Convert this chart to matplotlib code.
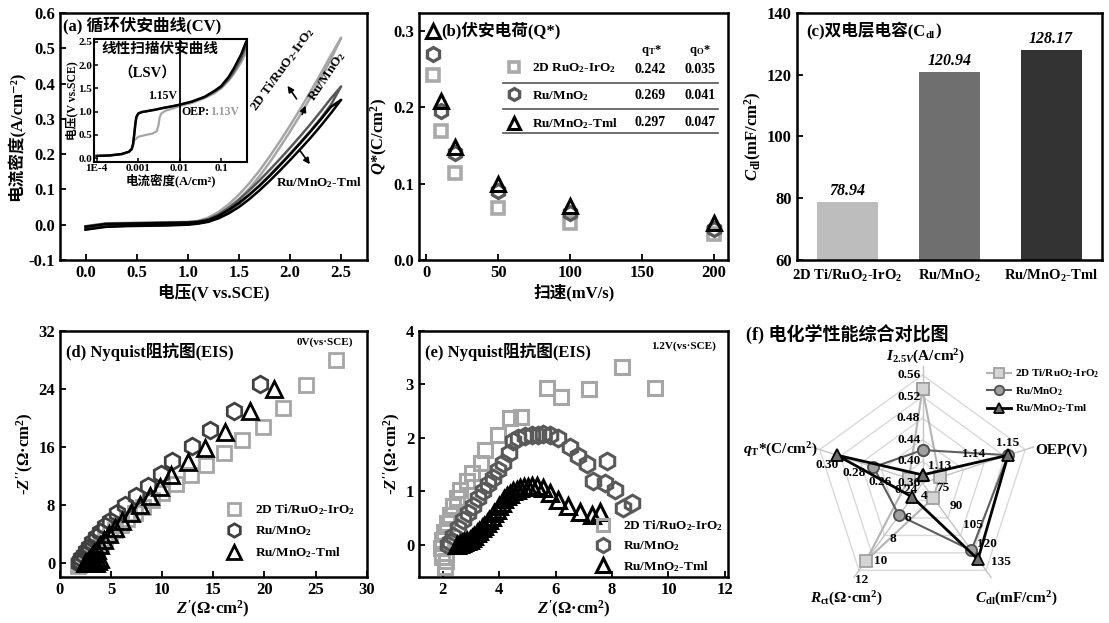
import matplotlib
matplotlib.use("Agg")
import numpy as np
import matplotlib.pyplot as plt
from matplotlib.ticker import FormatStrFormatter, NullLocator

plt.rcParams['font.family'] = ['Liberation Serif', 'Noto Sans CJK SC', 'DejaVu Serif']
plt.rcParams['font.weight'] = 'bold'
plt.rcParams['axes.labelweight'] = 'bold'
plt.rcParams['mathtext.fontset'] = 'custom'
plt.rcParams['mathtext.rm'] = 'Liberation Serif:bold'
plt.rcParams['mathtext.it'] = 'Liberation Serif:italic:bold'
plt.rcParams['mathtext.bf'] = 'Liberation Serif:bold'
plt.rcParams['axes.linewidth'] = 1.8

W, H = 1109, 623

# -------- (a) CV --------
cv_v = [0.0, 0.2, 0.4, 0.6, 0.8, 1.0, 1.1, 1.2, 1.3, 1.4, 1.5, 1.6, 1.7, 1.8, 1.9, 2.0, 2.1, 2.2, 2.3, 2.4, 2.5]
cv_2d_fwd = [-0.012, -0.004, -0.002, -0.001, 0.0, 0.002, 0.006, 0.014, 0.028, 0.048, 0.072, 0.102, 0.137, 0.176, 0.219, 0.264, 0.311, 0.361, 0.413, 0.469, 0.530]
cv_2d_rev = [-0.004, 0.004, 0.005, 0.006, 0.007, 0.008, 0.011, 0.020, 0.036, 0.058, 0.085, 0.117, 0.153, 0.193, 0.236, 0.281, 0.328, 0.377, 0.428, 0.480, 0.530]
cv_ru_fwd = [-0.013, -0.005, -0.003, -0.002, -0.001, 0.001, 0.004, 0.010, 0.021, 0.038, 0.059, 0.084, 0.111, 0.140, 0.170, 0.201, 0.233, 0.266, 0.301, 0.340, 0.392]
cv_ru_rev = [-0.005, 0.003, 0.004, 0.005, 0.006, 0.007, 0.009, 0.016, 0.029, 0.048, 0.071, 0.097, 0.125, 0.155, 0.186, 0.218, 0.251, 0.285, 0.321, 0.358, 0.392]
cv_tml_fwd = [-0.014, -0.006, -0.004, -0.003, -0.002, 0.0, 0.003, 0.008, 0.018, 0.032, 0.050, 0.072, 0.097, 0.124, 0.153, 0.183, 0.214, 0.246, 0.280, 0.316, 0.354]
cv_tml_rev = [-0.006, 0.002, 0.003, 0.004, 0.005, 0.006, 0.008, 0.013, 0.025, 0.042, 0.062, 0.085, 0.110, 0.138, 0.168, 0.199, 0.231, 0.264, 0.298, 0.334, 0.354]

# inset LSV
lsv_x = [1e-4, 2e-4, 4e-4, 6e-4, 7e-4, 7.5e-4, 8e-4, 8.5e-4, 9e-4, 1.0e-3, 1.2e-3, 1.6e-3, 2.5e-3, 4e-3, 7e-3, 1e-2, 2e-2, 4e-2, 7e-2, 0.1, 0.15, 0.2, 0.3, 0.4]
lsv_tml_y = [0.05, 0.06, 0.09, 0.14, 0.2, 0.3, 0.5, 0.72, 0.88, 0.96, 0.99, 1.01, 1.04, 1.08, 1.12, 1.15, 1.22, 1.32, 1.45, 1.55, 1.74, 1.92, 2.22, 2.50]
lsv_ru_y = [0.05, 0.06, 0.09, 0.14, 0.2, 0.3, 0.5, 0.72, 0.88, 0.96, 0.99, 1.01, 1.04, 1.08, 1.12, 1.15, 1.21, 1.31, 1.43, 1.52, 1.69, 1.85, 2.12, 2.40]
lsv_2d_x = [1e-4, 2e-4, 4e-4, 6e-4, 7e-4, 7.5e-4, 8e-4, 1.0e-3, 1.5e-3, 2.2e-3, 2.8e-3, 3.1e-3, 3.3e-3, 3.6e-3, 4.5e-3, 7e-3, 1e-2, 2e-2, 4e-2, 7e-2, 0.1, 0.15, 0.2, 0.3, 0.4]
lsv_2d_y = [0.05, 0.06, 0.09, 0.14, 0.2, 0.28, 0.38, 0.46, 0.5, 0.53, 0.58, 0.72, 0.88, 0.96, 1.02, 1.07, 1.12, 1.19, 1.29, 1.40, 1.50, 1.66, 1.80, 2.05, 2.28]

# -------- (b) Q* --------
scan_rates = [5, 10, 20, 50, 100, 200]
q_2d = [0.242, 0.169, 0.114, 0.068, 0.048, 0.034]
q_ru = [0.269, 0.195, 0.140, 0.090, 0.061, 0.040]
q_tml = [0.300, 0.208, 0.148, 0.099, 0.071, 0.048]
table_names = ["2D RuO$_2$-IrO$_2$", "Ru/MnO$_2$", "Ru/MnO$_2$-Tml"]
table_qT = [0.242, 0.269, 0.297]
table_qO = [0.035, 0.041, 0.047]

# -------- (c) Cdl --------
cdl_names = ["2D Ti/RuO$_2$-IrO$_2$", "Ru/MnO$_2$", "Ru/MnO$_2$-Tml"]
cdl_vals = [78.94, 120.94, 128.17]

# -------- (d) EIS 0V --------
d_2d_x = [27.0, 24.1, 21.8, 19.9, 17.8, 16.0, 14.3, 12.8, 11.3, 10.0, 9.0, 8.1, 7.3, 6.6, 6.0, 5.4, 4.9, 4.4, 4.0, 3.6, 3.2, 2.9, 2.6, 2.4, 2.2, 2.0, 1.9, 1.8]
d_2d_y = [28.0, 24.5, 21.3, 18.7, 17.0, 15.1, 13.5, 12.1, 10.8, 9.6, 8.6, 7.7, 6.8, 6.0, 5.2, 4.5, 3.9, 3.3, 2.7, 2.2, 1.7, 1.2, 0.8, 0.4, 0.1, -0.2, -0.4, -0.5]
d_ru_x = [19.6, 17.0, 14.7, 12.9, 11.0, 9.9, 8.6, 7.4, 6.4, 5.6, 4.9, 4.4, 3.9, 3.5, 3.1, 2.8, 2.5, 2.3, 2.1, 2.0, 1.9]
d_ru_y = [24.7, 20.9, 18.3, 16.1, 14.1, 12.2, 10.6, 9.2, 7.9, 6.8, 5.8, 5.0, 4.2, 3.5, 2.8, 2.2, 1.6, 1.1, 0.6, 0.2, -0.1]
d_tml_x = [20.9, 18.6, 16.1, 14.2, 12.5, 10.9, 9.8, 8.8, 7.8, 6.9, 6.1, 5.4, 4.8, 4.3, 3.9, 3.6, 3.3, 3.1, 2.9, 2.7, 2.5, 2.4, 3.9, 3.7, 3.5, 3.3]
d_tml_y = [24.0, 21.0, 18.1, 15.8, 13.9, 12.1, 10.5, 9.2, 8.0, 6.9, 5.8, 4.8, 3.9, 3.1, 2.4, 1.8, 1.3, 0.9, 0.5, 0.2, 0.0, -0.1, 0.5, 0.2, 0.0, -0.1]

# -------- (e) EIS 1.2V --------
e_2d_x = [8.36, 9.52, 7.19, 5.68, 6.18, 4.76, 4.38, 3.97, 3.50, 3.35, 3.03, 2.85, 2.61, 2.50, 2.38, 2.26, 2.16, 2.05, 1.96, 1.93, 1.96, 2.08, 2.12]
e_2d_y = [3.33, 2.93, 2.91, 2.94, 2.76, 2.39, 2.38, 2.05, 1.78, 1.54, 1.34, 1.19, 1.03, 0.88, 0.72, 0.56, 0.41, 0.25, 0.09, -0.06, -0.22, -0.41, -0.30]
e_ru_x = [7.81, 7.75, 7.31, 8.10, 8.69, 8.40, 7.12, 6.80, 6.51, 6.10, 5.80, 5.55, 5.39, 5.15, 4.92, 4.68, 4.50, 4.36, 4.15, 3.97, 3.79, 3.62, 3.44, 3.26, 3.08, 2.91, 2.73, 2.55, 2.38, 2.26, 2.20]
e_ru_y = [1.56, 1.16, 1.19, 1.03, 0.78, 0.69, 1.52, 1.66, 1.84, 2.00, 2.06, 2.07, 2.06, 2.05, 2.03, 2.00, 1.95, 1.72, 1.53, 1.41, 1.25, 1.13, 1.00, 0.88, 0.72, 0.59, 0.47, 0.31, 0.16, 0.06, 0.00]
e_tml_x = [7.57, 7.28, 6.86, 6.45, 6.10, 5.80, 5.56, 5.33, 5.18, 5.03, 4.88, 4.74, 4.62, 4.50, 4.38, 4.27, 4.18, 4.09, 4.00, 3.91, 3.83, 3.74, 3.65, 3.56, 3.47, 3.38, 3.30, 3.20, 3.10, 3.03, 2.95, 2.85, 2.75, 2.67, 2.60, 2.50]
e_tml_y = [0.62, 0.56, 0.62, 0.72, 0.84, 0.97, 1.06, 1.11, 1.10, 1.09, 1.08, 1.06, 1.03, 1.00, 0.96, 0.91, 0.85, 0.78, 0.72, 0.66, 0.60, 0.53, 0.47, 0.41, 0.36, 0.31, 0.26, 0.22, 0.17, 0.13, 0.10, 0.07, 0.05, 0.03, 0.02, 0.00]

# -------- (f) radar --------
radar_angles = [90, 18, -54, -126, 162]
radar_lo = [0.36, 1.125, 67, 2.8, 0.2316]
radar_hi = [0.56, 1.155, 137, 10.9, 0.310]
radar_2d = [0.534, 1.13, 78.94, 10.0, 0.242]
radar_ru = [0.421, 1.15, 120.94, 5.8, 0.269]
radar_tml = [0.375, 1.15, 128.17, 4.1, 0.297]
radar_ticks = [[0.36, 0.40, 0.44, 0.48, 0.52, 0.56], [1.13, 1.14, 1.15],
               [75, 90, 105, 120, 135], [4, 6, 8, 10, 12], [0.24, 0.26, 0.28, 0.30]]
radar_tick_fmt = ['%.2f', '%.2f', '%d', '%d', '%.2f']
radar_titles = ["$I_{2.5V}$(A/cm$^2$)", "OEP(V)", "$C_{\\mathrm{dl}}$(mF/cm$^2$)",
                "$R_{\\mathrm{ct}}$(Ω·cm$^2$)", "$q_{\\mathrm{T}}$*(C/cm$^2$)"]

LABELS = ["2D Ti/RuO$_2$-IrO$_2$", "Ru/MnO$_2$", "Ru/MnO$_2$-Tml"]
C2D, CRU, CTML = '#a6a6a6', '#595959', '#000000'


def rect(l, t, r, b):
    return [l / W, (H - b) / H, (r - l) / W, (b - t) / H]


def style(ax, fs=12):
    ax.tick_params(direction='in', length=4, width=1.3, labelsize=fs)
    for s in ax.spines.values():
        s.set_linewidth(1.8)


def chain(ax, x, y, first, pieces, fs, transform=None, color='k'):
    # text pieces glued one after another (CJK + subscripts without mathtext)
    t0 = ax.text(x, y, first, transform=transform or ax.transAxes, fontsize=fs,
                 va='bottom', ha='left', color=color)
    prev = t0
    for s, scale, sub, col in pieces:
        if sub:
            prev = ax.annotate(s, xy=(1, 0), xycoords=prev, xytext=(0.3, -0.5),
                               textcoords='offset points', fontsize=fs * scale,
                               va='bottom', ha='left', color=col)
        else:
            prev = ax.annotate(s, xy=(1, 0), xycoords=(prev, t0), xytext=(0.3, 0),
                               textcoords='offset points', fontsize=fs * scale,
                               va='bottom', ha='left', color=col)
    return t0


def main():
    fig = plt.figure(figsize=(W / 100, H / 100), dpi=100)

    # -------- (a) --------
    ax = fig.add_axes(rect(60, 13, 366.7, 260))
    for fwd, rev, c in [(cv_2d_fwd, cv_2d_rev, C2D), (cv_ru_fwd, cv_ru_rev, CRU),
                        (cv_tml_fwd, cv_tml_rev, CTML)]:
        ax.plot(cv_v + cv_v[::-1], fwd + rev[::-1], color=c, lw=1.8)
    ax.set_xlim(-0.25, 2.75)
    ax.set_ylim(-0.1, 0.6)
    ax.set_xticks([0, 0.5, 1.0, 1.5, 2.0, 2.5])
    ax.set_yticks(np.arange(-0.1, 0.61, 0.1))
    ax.xaxis.set_major_formatter(FormatStrFormatter('%.1f'))
    ax.yaxis.set_major_formatter(FormatStrFormatter('%.1f'))
    ax.set_xlabel("电压(V vs.SCE)", fontsize=12, labelpad=2)
    ax.set_ylabel("电流密度(A/cm⁻²)", fontsize=12, labelpad=2)
    style(ax)
    ax.text(0.01, 0.95, "(a) 循环伏安曲线(CV)", transform=ax.transAxes, fontsize=12, va='center')
    ax.text(1.93, 0.44, LABELS[0], rotation=54, fontsize=9.5, ha='center', va='center')
    ax.text(2.36, 0.42, LABELS[1], rotation=56, fontsize=9.5, ha='center', va='center')
    ax.text(1.86, 0.119, LABELS[2], fontsize=9.5, ha='left', va='center')
    arw = dict(arrowstyle='-|>', lw=1.2, color='k', mutation_scale=9)
    ax.annotate('', xy=(1.96, 0.40), xytext=(2.08, 0.35), arrowprops=arw)
    ax.annotate('', xy=(2.16, 0.345), xytext=(2.11, 0.305), arrowprops=arw)
    ax.annotate('', xy=(2.21, 0.165), xytext=(2.08, 0.217), arrowprops=arw)

    # inset LSV
    ins = fig.add_axes(rect(94, 39, 247, 162))
    ins.plot(lsv_2d_x, lsv_2d_y, color=C2D, lw=1.6)
    ins.plot(lsv_x, lsv_ru_y, color=CRU, lw=1.6)
    ins.plot(lsv_x, lsv_tml_y, color=CTML, lw=1.8)
    ins.axvline(0.01, color='k', lw=1.3)
    ins.set_xscale('log')
    ins.set_xlim(8.6e-5, 0.42)
    ins.set_ylim(-0.08, 2.56)
    ins.set_xticks([1e-4, 1e-3, 1e-2, 1e-1])
    ins.set_xticklabels(['1E-4', '0.001', '0.01', '0.1'])
    ins.xaxis.set_minor_locator(NullLocator())
    ins.set_yticks([0, 0.5, 1.0, 1.5, 2.0, 2.5])
    ins.yaxis.set_major_formatter(FormatStrFormatter('%.1f'))
    ins.tick_params(direction='in', length=3, width=1.1, labelsize=8, pad=1.5)
    for s in ins.spines.values():
        s.set_linewidth(1.5)
    ins.set_xlabel("电流密度(A/cm²)", fontsize=9, labelpad=0)
    ins.set_ylabel("电压(V vs.SCE)", fontsize=8.5, labelpad=0)
    ins.text(0.05, 0.92, "线性扫描伏安曲线", transform=ins.transAxes, fontsize=10.5, va='center')
    ins.text(0.35, 0.73, "（LSV）", transform=ins.transAxes, fontsize=10.5, va='center', ha='center')
    ins.text(0.0088, 1.33, "1.15V", fontsize=8.5, ha='right', va='center')
    chain(ins, 0.0113, 0.86, "OEP:", [("1.13V", 1.0, False, '#9a9a9a')], 8.5,
          transform=ins.transData)

    # -------- (b) --------
    bx = fig.add_axes(rect(419, 13, 728.3, 260))
    mk = dict(ls='none', mfc='none')
    bx.plot(scan_rates, q_2d, marker='s', ms=8, mew=2.6, mec='#aaaaaa', label=table_names[0], **mk)
    bx.plot(scan_rates, q_ru, marker='h', ms=10, mew=2.4, mec=CRU, label=table_names[1], **mk)
    bx.plot(scan_rates, q_tml, marker='^', ms=10, mew=2.2, mec=CTML, label=table_names[2], **mk)
    bx.set_xlim(-5, 210)
    bx.set_ylim(0, 0.323)
    bx.set_xticks([0, 50, 100, 150, 200])
    bx.set_yticks([0, 0.1, 0.2, 0.3])
    bx.yaxis.set_major_formatter(FormatStrFormatter('%.1f'))
    bx.set_xlabel("扫速(mV/s)", fontsize=12, labelpad=2)
    bx.set_ylabel("$Q$*(C/cm$^2$)", fontsize=12, labelpad=2)
    style(bx)
    bx.text(0.073, 0.927, "(b)伏安电荷(Q*)", transform=bx.transAxes, fontsize=12, va='center')
    bx.legend(loc='upper left', bbox_to_anchor=(0.285, 0.805), frameon=False, fontsize=9.5,
              labelspacing=1.05, handlelength=1.0, handletextpad=0.9, borderpad=0,
              borderaxespad=0, numpoints=1, markerscale=0.85)
    row_y = [0.773, 0.665, 0.556]
    bx.text(0.752, 0.85, "q$_{\\mathrm{T}}$*", transform=bx.transAxes, fontsize=9, ha='center', va='center')
    bx.text(0.908, 0.85, "q$_{\\mathrm{O}}$*", transform=bx.transAxes, fontsize=9, ha='center', va='center')
    for i in range(3):
        bx.text(0.747, row_y[i], "%.3f" % table_qT[i], transform=bx.transAxes, fontsize=10, ha='center', va='center')
        bx.text(0.908, row_y[i], "%.3f" % table_qO[i], transform=bx.transAxes, fontsize=10, ha='center', va='center')
    for yl in [0.715, 0.613, 0.513]:
        bx.plot([0.27, 0.967], [yl, yl], transform=bx.transAxes, color='#555555', lw=1.2)

    # -------- (c) --------
    cx = fig.add_axes(rect(796.7, 13, 1102, 260))
    bars = cx.bar(range(3), cdl_vals, width=0.6, color=['#bdbdbd', '#6f6f6f', '#333333'])
    for b, v in zip(bars, cdl_vals):
        cx.text(b.get_x() + b.get_width() / 2, v + 0.8, "%.2f" % v, ha='center', va='bottom',
                fontsize=11.5, style='italic')
    cx.set_xlim(-0.5, 2.5)
    cx.set_ylim(60, 140)
    cx.set_yticks([60, 80, 100, 120, 140])
    cx.set_xticks(range(3))
    cx.set_xticklabels(cdl_names, fontsize=10.5)
    style(cx)
    cx.tick_params(axis='x', length=0, pad=6, labelsize=10.5)
    cx.set_ylabel("$C_{\\mathrm{dl}}$(mF/cm$^2$)", fontsize=12, labelpad=2)
    chain(cx, 0.03, 0.895, "(c)双电层电容(C", [("dl", 0.65, True, 'k'), (")", 1.0, False, 'k')], 12)

    # -------- (d) --------
    dx = fig.add_axes(rect(60, 331, 366.7, 577))
    dx.plot(d_2d_x, d_2d_y, marker='s', ms=10, mew=2.0, mec=C2D, label=LABELS[0], **mk)
    dx.plot(d_ru_x, d_ru_y, marker='h', ms=12, mew=2.0, mec='#404040', label=LABELS[1], **mk)
    dx.plot(d_tml_x, d_tml_y, marker='^', ms=12, mew=2.0, mec=CTML, label=LABELS[2], **mk)
    dx.set_xlim(0, 30)
    dx.set_ylim(-2, 32)
    dx.set_xticks(range(0, 31, 5))
    dx.set_yticks([0, 8, 16, 24, 32])
    dx.set_xlabel("$Z'$(Ω·cm$^2$)", fontsize=12, labelpad=1)
    dx.set_ylabel("-$Z''$(Ω·cm$^2$)", fontsize=12, labelpad=2)
    style(dx)
    dx.text(0.02, 0.915, "(d) Nyquist阻抗图(EIS)", transform=dx.transAxes, fontsize=12, va='center')
    dx.text(0.955, 0.955, "0V(vs·SCE)", transform=dx.transAxes, fontsize=8, ha='right', va='center')
    dx.legend(loc='lower right', bbox_to_anchor=(1.0, 0.02), frameon=False, fontsize=9.5,
              labelspacing=0.55, handletextpad=0.6, numpoints=1, markerscale=0.8)

    # -------- (e) --------
    ex = fig.add_axes(rect(419, 331, 728.3, 577))
    ex.plot(e_2d_x, e_2d_y, marker='s', ms=10, mew=2.2, mec=C2D, label=LABELS[0], **mk)
    ex.plot(e_ru_x, e_ru_y, marker='h', ms=12, mew=2.2, mec=CRU, label=LABELS[1], **mk)
    ex.plot(e_tml_x, e_tml_y, marker='^', ms=12, mew=2.2, mec=CTML, label=LABELS[2], **mk)
    ex.set_xlim(1.16, 12.12)
    ex.set_ylim(-0.6, 4.0)
    ex.set_xticks([2, 4, 6, 8, 10, 12])
    ex.set_yticks([0, 1, 2, 3, 4])
    ex.set_xlabel("$Z'$(Ω·cm$^2$)", fontsize=12, labelpad=1)
    ex.set_ylabel("-$Z''$(Ω·cm$^2$)", fontsize=12, labelpad=2)
    style(ex)
    ex.text(0.02, 0.915, "(e) Nyquist阻抗图(EIS)", transform=ex.transAxes, fontsize=12, va='center')
    ex.text(0.96, 0.94, "1.2V(vs·SCE)", transform=ex.transAxes, fontsize=8, ha='right', va='center')
    ex.legend(loc='lower right', bbox_to_anchor=(1.02, -0.035), frameon=False, fontsize=9.5,
              labelspacing=0.45, handletextpad=0.5, numpoints=1, markerscale=0.85)

    # -------- (f) radar --------
    fx = fig.add_axes(rect(792, 352.5, 1053, 613.5))
    lim = 1.2083
    fx.set_xlim(-lim, lim)
    fx.set_ylim(-lim, lim)
    fx.axis('off')
    th = np.deg2rad(radar_angles)
    ring = np.append(th, th[0])
    for k in [0.2, 0.4, 0.6, 0.8, 1.0]:
        fx.plot(k * np.cos(ring), k * np.sin(ring), color='#d9d9d9', lw=1.0, zorder=1)
    for a in th:
        fx.plot([0, 1.08 * np.cos(a)], [0, 1.08 * np.sin(a)], color='#c4c4c4', lw=1.0, zorder=1)

    lo, hi = np.array(radar_lo), np.array(radar_hi)
    series = [(radar_2d, '#b4b4b4', 's', '#d4d4d4', '#a0a0a0', 1.5),
              (radar_ru, '#5f5f5f', 'o', '#a0a0a0', '#505050', 1.5),
              (radar_tml, '#000000', '^', '#6e6e6e', '#000000', 2.0)]
    for (vals, lc, m, fc, ec, lw), lab in zip(series, LABELS):
        r = (np.array(vals) - lo) / (hi - lo)
        r = np.append(r, r[0])
        fx.plot(r * np.cos(ring), r * np.sin(ring), color=lc, lw=lw, marker=m, ms=8,
                mfc=fc, mec=ec, mew=1.3, label=lab, zorder=3)

    # per-axis tick labels
    offs = [(-0.02, 0.0, 'right', 'center'), (0.0, 0.11, 'center', 'center'),
            (0.06, 0.05, 'left', 'center'), (0.07, 0.0, 'left', 'center'),
            (-0.05, -0.1, 'center', 'center')]
    for i, a in enumerate(th):
        for tv in radar_ticks[i]:
            rr = (tv - radar_lo[i]) / (radar_hi[i] - radar_lo[i])
            ox, oy, ha, va = offs[i]
            if i == 3 and tv == 12:
                ox, oy, ha = 0.1, 0.02, 'center'
            fx.text(rr * np.cos(a) + ox, rr * np.sin(a) + oy, radar_tick_fmt[i] % tv,
                    fontsize=9.5, ha=ha, va=va, zorder=4)
    title_pos = [(0.025, 1.167, 'center'), (1.04, 0.306, 'left'), (0.872, -1.07, 'center'),
                 (-0.70, -1.07, 'center'), (-0.97, 0.306, 'right')]
    for (tx, ty, ha), t in zip(title_pos, radar_titles):
        fx.text(tx, ty, t, fontsize=11, ha=ha, va='center')
    fx.legend(loc='upper left', bbox_to_anchor=(0.5, 1.16), bbox_transform=fx.transData,
              frameon=False, fontsize=8, handlelength=2.2, labelspacing=0.45,
              handletextpad=0.4, markerscale=0.85)
    fig.text(746 / W, 1 - 335 / H, "(f) 电化学性能综合对比图", fontsize=13, va='center')

    fig.savefig("out.png", dpi=100)


if __name__ == "__main__":
    main()
